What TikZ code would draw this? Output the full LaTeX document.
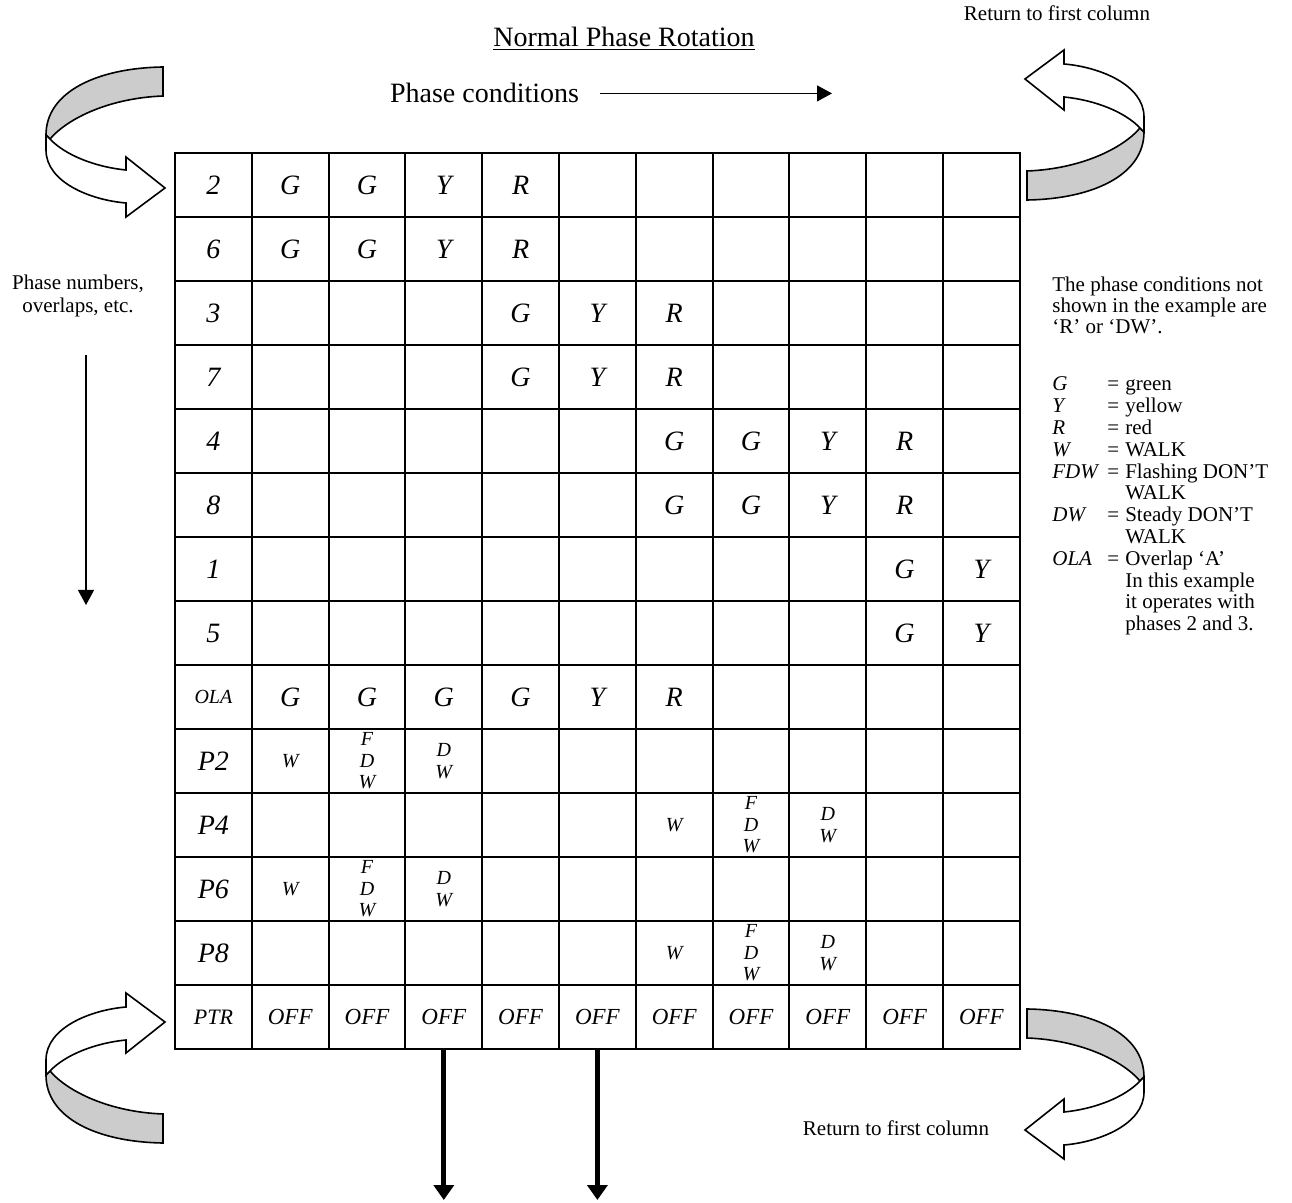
\documentclass[tikz,border=0pt]{standalone}
\usepackage{fontspec}
\setmainfont{Liberation Serif}
\usetikzlibrary{arrows.meta}
\usetikzlibrary{calc}

% one twisted band arrow (upper left one), the others are mirrored copies
\newcommand{\ribbonarrow}{%
  \draw[ribbon, fill=black!20] (163,67) .. controls (97,68) and (46,92) .. (46,135)
    -- (50,139) .. controls (68,118) and (110,98) .. (163,96) -- cycle;
  \draw[ribbon, fill=white] (50,139) .. controls (65,155) and (95,167) .. (126,170)
    -- (126,157) -- (165,188) -- (126,217) -- (126,203)
    .. controls (90,200) and (46,182) .. (46,150) -- (46,135) -- cycle;
}

\begin{document}
\begin{tikzpicture}[x=0.5pt, y=-0.5pt,
  cell/.style={draw, line width=1pt, minimum width=38.4pt, minimum height=32pt, inner sep=0pt},
  sig/.style={font=\fontsize{14}{16}\selectfont\itshape, inner sep=0pt},
  lab/.style={font=\fontsize{14}{16}\selectfont\itshape, inner sep=0pt},
  olalab/.style={font=\fontsize{10}{12}\selectfont\itshape, inner sep=0pt},
  ptrlab/.style={font=\fontsize{11}{13}\selectfont\itshape, inner sep=0pt},
  off/.style={font=\fontsize{11.5}{13}\selectfont\itshape, inner sep=0pt},
  walk/.style={font=\fontsize{10}{11}\selectfont\itshape, inner sep=0pt},
  stack/.style={align=center, font=\fontsize{10}{10.8}\selectfont\itshape, inner sep=0pt},
  note/.style={font=\fontsize{10.5}{10.9}\selectfont, inner sep=0pt},
  head/.style={font=\fontsize{14}{16}\selectfont, inner sep=0pt},
  ribbon/.style={line width=0.8pt, line join=miter},
  arr/.style={line width=0.6pt, -{Triangle[width=8pt,length=7.5pt]}},
  thickarr/.style={line width=2.5pt, -{Triangle[width=10pt,length=7.5pt]}}]
\useasboundingbox (0,0) rectangle (1292,1203);

% headings
\node[head, anchor=base] (title) at (624,46.5) {\underline{Normal Phase Rotation}};
\node[head, anchor=base] (phcond) at (484.5,103) {Phase conditions};
\coordinate (phcondend) at (832,98);
\draw[arr] ([xshift=10.5pt]phcond.east) -- (phcond.east -| phcondend);

\node[note, anchor=base, font=\fontsize{10.5}{11.5}\selectfont] (phnum) at (78,290)
  {\begin{tabular}[t]{@{}c@{}}Phase numbers,\\ overlaps, etc.\end{tabular}};
\coordinate (phnumtop) at (86,355);
\coordinate (phnumend) at (86,605);
\draw[arr] (phnumtop) -- (phnumend);

% the grid
\foreach \row in {0,...,13} {
  \foreach \col in {0,...,10} {
    \node[cell] (c-\row-\col) at ({213.4+76.8*\col},{185+64*\row}) {};
  }
}

% first column
\foreach \row/\lab in {0/2,1/6,2/3,3/7,4/4,5/8,6/1,7/5,9/P2,10/P4,11/P6,12/P8}
  \node[lab] (l-\row) at (c-\row-0) {\lab};
\node[olalab] (l-8) at (c-8-0) {OLA};
\node[ptrlab] (l-13) at (c-13-0) {PTR};

% signal indications
\foreach \row in {0,1}
  \foreach \col/\sym in {1/G,2/G,3/Y,4/R}
    \node[sig] (s-\row-\col) at (c-\row-\col) {\sym};
\foreach \row in {2,3}
  \foreach \col/\sym in {4/G,5/Y,6/R}
    \node[sig] (s-\row-\col) at (c-\row-\col) {\sym};
\foreach \row in {4,5}
  \foreach \col/\sym in {6/G,7/G,8/Y,9/R}
    \node[sig] (s-\row-\col) at (c-\row-\col) {\sym};
\foreach \row in {6,7}
  \foreach \col/\sym in {9/G,10/Y}
    \node[sig] (s-\row-\col) at (c-\row-\col) {\sym};
\foreach \col/\sym in {1/G,2/G,3/G,4/G,5/Y,6/R}
  \node[sig] (s-8-\col) at (c-8-\col) {\sym};

% pedestrian rows
\foreach \row/\col in {9/1,10/6,11/1,12/6} {
  \pgfmathtruncatemacro{\colf}{\col+1}
  \pgfmathtruncatemacro{\cold}{\col+2}
  \node[walk] (w-\row) at (c-\row-\col) {W};
  \node[stack] (f-\row) at (c-\row-\colf) {F\\D\\W};
  \node[stack] (d-\row) at (c-\row-\cold) {D\\W};
}

% PTR row
\foreach \col in {1,...,10}
  \node[off] (o-\col) at (c-13-\col) {OFF};

\coordinate (outA) at (442,1200);
\coordinate (outB) at (595,1200);
\draw[thickarr] (c-13-3.south) -- (c-13-3.south |- outA);
\draw[thickarr] (c-13-5.south) -- (c-13-5.south |- outB);

% notes on the right
\node[note, anchor=base west, font=\fontsize{10.5}{10.5}\selectfont] (notes) at (1052,292)
  {\begin{tabular}[t]{@{}l@{}}The phase conditions not\\ shown in the example are\\ `R' or `DW'.\end{tabular}};
\node[note, anchor=base west] (legend) at (1052,391)
  {\begin{tabular}[t]{@{}l@{\hspace{4pt}}l@{\hspace{3pt}}l@{}}
  \textit{G} & = & green\\
  \textit{Y} & = & yellow\\
  \textit{R} & = & red\\
  \textit{W} & = & WALK\\
  \textit{FDW} & = & Flashing DON'T\\
   & & WALK\\
  \textit{DW} & = & Steady DON'T\\
   & & WALK\\
  \textit{OLA} & = & Overlap `A'\\
   & & In this example\\
   & & it operates with\\
   & & phases 2 and 3.
  \end{tabular}};

\node[note] (rettop) at (1057,13) {Return to first column};
\node[note] (retbot) at (896,1128) {Return to first column};

% curved band arrows
\ribbonarrow
\begin{scope}[shift={(1190,267)}, xscale=-1, yscale=-1]
  \ribbonarrow
\end{scope}
\begin{scope}[shift={(0,1210)}, yscale=-1]
  \ribbonarrow
\end{scope}
\begin{scope}[shift={(1190,942)}, xscale=-1]
  \ribbonarrow
\end{scope}
\end{tikzpicture}
\end{document}
